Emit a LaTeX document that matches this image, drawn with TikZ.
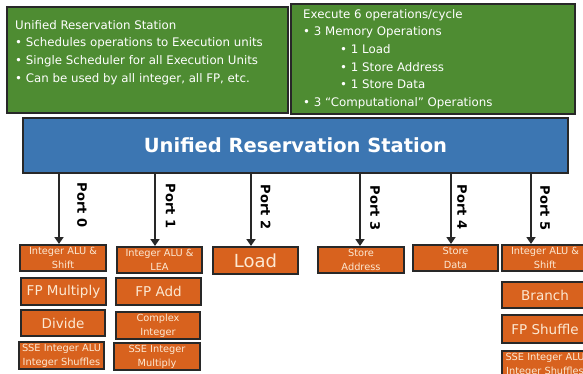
\documentclass[tikz,border=0pt]{standalone}
\usepackage{fontspec}
\setmainfont{DejaVu Sans}
\usetikzlibrary{arrows.meta}
\definecolor{gboxc}{RGB}{78,140,50}
\definecolor{bboxc}{RGB}{60,118,178}
\definecolor{oboxc}{RGB}{216,98,30}
\definecolor{edgec}{RGB}{40,40,40}
\definecolor{cream}{RGB}{252,232,210}
\begin{document}
\begin{tikzpicture}[x=1pt,y=-1pt,
  gbox/.style={draw=edgec, line width=2pt, fill=gboxc, anchor=north west, inner sep=0pt},
  gtext/.style={anchor=north west, inner sep=0pt, text=white, align=left, font=\fontsize{11.8}{17.7}\selectfont},
  obox/.style={draw=edgec, line width=2pt, fill=oboxc, text=cream, align=center, inner sep=0pt, anchor=north west},
  small/.style={font=\fontsize{9.8}{14}\selectfont},
  big/.style={font=\fontsize{13.5}{16}\selectfont},
  huge/.style={font=\fontsize{18}{20}\selectfont},
  arr/.style={draw=edgec, line width=2.5pt, -{Triangle[length=7pt,width=9pt]}},
  portlbl/.style={font=\bfseries\fontsize{13}{13}\selectfont, rotate=-90, text=black, inner sep=0pt}]
\useasboundingbox[fill=white] (0,0) rectangle (583,374);

% green info boxes
\node[gbox, minimum width=281pt, minimum height=106pt] (g1) at (6,6) {};
\node[gtext] (g1t) at (15,20) {Unified Reservation Station\\
• Schedules operations to Execution units\\
• Single Scheduler for all Execution Units\\
• Can be used by all integer, all FP, etc.};

\node[gbox, minimum width=284pt, minimum height=110pt] (g2) at (290,3) {};
\node[gtext] (g2t) at (303,9) {Execute 6 operations/cycle\\
• 3 Memory Operations\\
\hspace*{37pt}• 1 Load\\
\hspace*{37pt}• 1 Store Address\\
\hspace*{37pt}• 1 Store Data\\
• 3 “Computational” Operations};

% reservation station
\node[draw=edgec, line width=2pt, fill=bboxc, anchor=north west, minimum width=545pt, minimum height=55pt,
  text=white, font=\bfseries\fontsize{19.5}{21}\selectfont] (rs) at (22,117) {Unified Reservation Station};

% execution units
\node[obox, small, minimum width=86pt, minimum height=26pt] (b00) at (19,244) {Integer ALU \&\\Shift};
\node[obox, big, minimum width=85pt, minimum height=27pt] (b01) at (20,277) {FP Multiply};
\node[obox, big, minimum width=84pt, minimum height=26pt] (b02) at (20,309) {Divide};
\node[obox, small, minimum width=85pt, minimum height=27pt] (b03) at (18,341) {SSE Integer ALU\\Integer Shuffles};

\node[obox, small, minimum width=85pt, minimum height=26pt] (b10) at (116,246) {Integer ALU \&\\LEA};
\node[obox, big, minimum width=85pt, minimum height=27pt] (b11) at (115,277) {FP Add};
\node[obox, small, minimum width=84pt, minimum height=27pt] (b12) at (115,311) {Complex\\Integer};
\node[obox, small, minimum width=86pt, minimum height=27pt] (b13) at (113,342) {SSE Integer\\Multiply};

\node[obox, huge, minimum width=85pt, minimum height=27pt] (b20) at (212,246) {Load};

\node[obox, small, minimum width=86pt, minimum height=26pt] (b30) at (317,246) {Store\\Address};

\node[obox, small, minimum width=85pt, minimum height=26pt] (b40) at (412,244) {Store\\Data};

\node[obox, small, minimum width=86pt, minimum height=26pt] (b50) at (501,244) {Integer ALU \&\\Shift};
\node[obox, big, minimum width=86pt, minimum height=26pt] (b51) at (501,281) {Branch};
\node[obox, big, minimum width=86pt, minimum height=28pt] (b52) at (501,314) {FP Shuffle};
\node[obox, small, minimum width=86pt, minimum height=27pt] (b53) at (501,350) {SSE Integer ALU\\Integer Shuffles};

% ports
\coordinate (a0) at (59,172);
\coordinate (a1) at (155,172);
\coordinate (a2) at (251,172);
\coordinate (a3) at (360,172);
\coordinate (a4) at (451,172);
\coordinate (a5) at (531,172);
\draw[arr] (rs.south -| a0) -- (a0 |- b00.north);
\draw[arr] (rs.south -| a1) -- (a1 |- b10.north);
\draw[arr] (rs.south -| a2) -- (a2 |- b20.north);
\draw[arr] (rs.south -| a3) -- (a3 |- b30.north);
\draw[arr] (rs.south -| a4) -- (a4 |- b40.north);
\draw[arr] (rs.south -| a5) -- (a5 |- b50.north);

\node[portlbl] (p0) at (82,205) {Port 0};
\node[portlbl] (p1) at (170.5,206) {Port 1};
\node[portlbl] (p2) at (265.5,207) {Port 2};
\node[portlbl] (p3) at (375,208) {Port 3};
\node[portlbl] (p4) at (462,207) {Port 4};
\node[portlbl] (p5) at (545,208) {Port 5};
\end{tikzpicture}
\end{document}
